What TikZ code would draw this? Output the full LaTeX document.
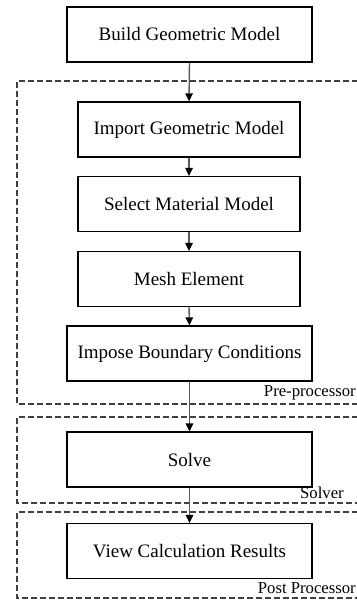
\documentclass[tikz,border=0pt]{standalone}
\usepackage{fontspec}
\setmainfont{Liberation Serif}
\usetikzlibrary{arrows.meta}
\begin{document}
\begin{tikzpicture}[x=1pt,y=1pt,
  stepbox/.style={draw=black,line width=1.3pt,rectangle,minimum height=55pt,inner sep=0pt,font=\fontsize{19}{23}\selectfont},
  wide/.style={minimum width=245pt},
  narrow/.style={minimum width=222pt},
  flow/.style={draw=black!65,line width=1.4pt,-{Triangle[width=7.5pt,length=8pt,fill=black,color=black]}},
  grp/.style={draw=black!75,line width=1.2pt,dash pattern=on 6pt off 3pt},
  grplabel/.style={font=\fontsize{16.7}{20}\selectfont,inner sep=0pt}]
\useasboundingbox (0,0) rectangle (356,-601);
\node[stepbox,wide] (build) at (189.5,-34.5) {Build Geometric Model};
\node[stepbox,narrow] (import) at (189,-129.5) {Import Geometric Model};
\node[stepbox,narrow] (select) at (189,-204) {Select Material Model};
\node[stepbox,narrow] (mesh) at (189,-279) {Mesh Element};
\node[stepbox,wide] (impose) at (189.5,-353.5) {Impose Boundary Conditions};
\node[stepbox,wide] (solve) at (189.5,-459.5) {Solve};
\node[stepbox,wide] (view) at (189.5,-551) {View Calculation Results};
% groups
\draw[grp] (358,-81) -- (17,-81) -- (17,-404) -- (358,-404);
\draw[grp] (358,-417) -- (17,-417) -- (17,-503) -- (358,-503);
\draw[grp] (358,-512) -- (17,-512) -- (17,-598) -- (358,-598);
\node[grplabel,anchor=base east] (prelabel) at (356,-396) {Pre-processor};
\node[grplabel,anchor=base west] (solverlabel) at (300,-498) {Solver};
\node[grplabel,anchor=base east] (postlabel) at (356,-593) {Post Processor};
% arrows
\draw[flow] (build.south) -- (import.north);
\draw[flow] (import.south) -- (select.north);
\draw[flow] (select.south) -- (mesh.north);
\draw[flow] (mesh.south) -- (impose.north);
\draw[flow] (impose.south) -- (solve.north);
\draw[flow] (solve.south) -- (view.north);
\end{tikzpicture}
\end{document}
